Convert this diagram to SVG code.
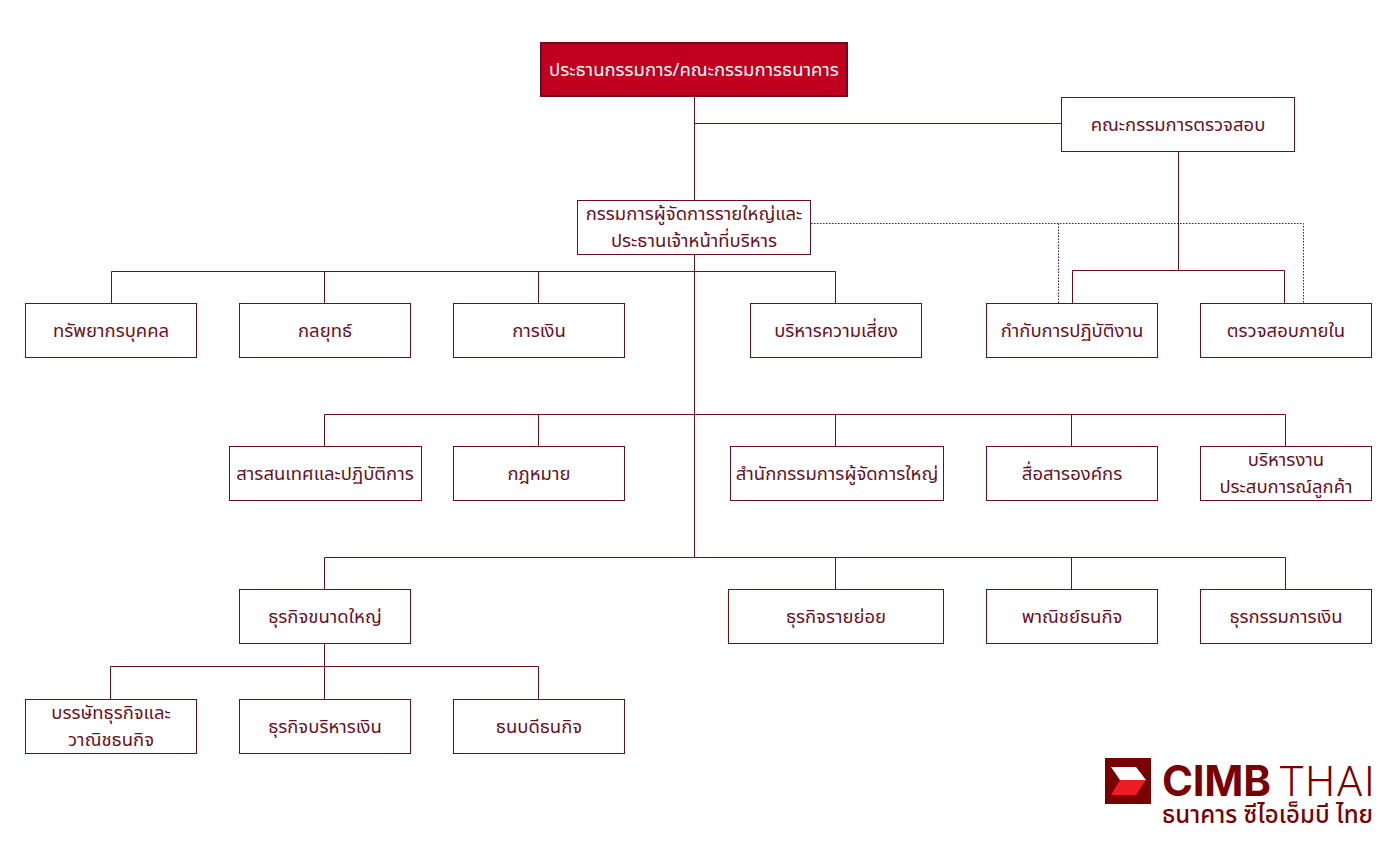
<svg xmlns="http://www.w3.org/2000/svg" width="1397" height="843" viewBox="0 0 1397 843">
<style>
rect.n{fill:#fff;stroke:#6b0f1f;stroke-width:1}
rect.t{fill:#c0001e;stroke:#6b0f1f;stroke-width:2}
text{font-family:"Noto Sans Thai","Noto Sans","DejaVu Sans","Liberation Sans",sans-serif;font-size:18.5px;fill:#6b0f1f;text-anchor:middle}
#connectors path{fill:none;stroke:#6b0f1f;stroke-width:1}
#connectors path.d{stroke-dasharray:1.5 1.5}
</style>
<rect width="1397" height="843" fill="#fff"/>
<g id="connectors">
<path d="M694.5 96V200M694.5 123.500H1061M1178.500 152V270.500M1072.500 303V270.500H1284.500V303"/>
<path d="M694.500 255V557.500"/>
<path d="M111.500 303V271.500H835.500V303M324.500 271.500V303M538.500 271.500V303"/>
<path d="M324.500 446V414.500H1285.500V446M538.500 414.500V446M835.500 414.500V446M1071.500 414.500V446"/>
<path d="M324.500 589V557.500H1285.500V589M835.500 557.500V589M1071.500 557.500V589"/>
<path d="M324.500 644V699M110.500 699V666.500H538.500V699"/>
<path class="d" d="M811 223.500H1303.500V303M1058.500 223.500V303"/>
</g>
<g id="n-board"><rect class="t" x="541" y="43" width="306" height="53"/><text x="694" y="76" style="fill:#fff">ประธานกรรมการ/คณะกรรมการธนาคาร</text></g>
<g id="n-audit"><rect class="n" x="1061.500" y="97.500" width="233" height="54"/><text x="1178" y="131">คณะกรรมการตรวจสอบ</text></g>
<g id="n-ceo"><rect class="n" x="577.500" y="200.500" width="233" height="54"/><text x="694" y="220">กรรมการผู้จัดการรายใหญ่และ</text><text x="694" y="247">ประธานเจ้าหน้าที่บริหาร</text></g>
<g id="n-hr"><rect class="n" x="25.500" y="303.500" width="171" height="54"/><text x="111" y="337">ทรัพยากรบุคคล</text></g>
<g id="n-strategy"><rect class="n" x="239.500" y="303.500" width="171" height="54"/><text x="325" y="337">กลยุทธ์</text></g>
<g id="n-finance"><rect class="n" x="453.500" y="303.500" width="171" height="54"/><text x="539" y="337">การเงิน</text></g>
<g id="n-risk"><rect class="n" x="750.500" y="303.500" width="171" height="54"/><text x="836" y="337">บริหารความเสี่ยง</text></g>
<g id="n-compliance"><rect class="n" x="986.500" y="303.500" width="171" height="54"/><text x="1072" y="337">กำกับการปฏิบัติงาน</text></g>
<g id="n-internal"><rect class="n" x="1200.500" y="303.500" width="171" height="54"/><text x="1286" y="337">ตรวจสอบภายใน</text></g>
<g id="n-it"><rect class="n" x="229.500" y="446.500" width="192" height="54"/><text x="325" y="480">สารสนเทศและปฏิบัติการ</text></g>
<g id="n-legal"><rect class="n" x="453.500" y="446.500" width="171" height="54"/><text x="539" y="480">กฎหมาย</text></g>
<g id="n-office"><rect class="n" x="730.500" y="446.500" width="213" height="54"/><text x="837" y="480">สำนักกรรมการผู้จัดการใหญ่</text></g>
<g id="n-comm"><rect class="n" x="986.500" y="446.500" width="171" height="54"/><text x="1072" y="480">สื่อสารองค์กร</text></g>
<g id="n-cx"><rect class="n" x="1200.500" y="446.500" width="171" height="54"/><text x="1286" y="466">บริหารงาน</text><text x="1286" y="493">ประสบการณ์ลูกค้า</text></g>
<g id="n-wholesale"><rect class="n" x="239.500" y="589.500" width="171" height="54"/><text x="325" y="623">ธุรกิจขนาดใหญ่</text></g>
<g id="n-retail"><rect class="n" x="728.500" y="589.500" width="215" height="54"/><text x="836" y="623">ธุรกิจรายย่อย</text></g>
<g id="n-commercial"><rect class="n" x="986.500" y="589.500" width="171" height="54"/><text x="1072" y="623">พาณิชย์ธนกิจ</text></g>
<g id="n-treasury"><rect class="n" x="1200.500" y="589.500" width="171" height="54"/><text x="1286" y="623">ธุรกรรมการเงิน</text></g>
<g id="n-corp"><rect class="n" x="25.500" y="699.500" width="171" height="54"/><text x="111" y="719">บรรษัทธุรกิจและ</text><text x="111" y="746">วาณิชธนกิจ</text></g>
<g id="n-cash"><rect class="n" x="239.500" y="699.500" width="171" height="54"/><text x="325" y="733">ธุรกิจบริหารเงิน</text></g>
<g id="n-ib"><rect class="n" x="453.500" y="699.500" width="171" height="54"/><text x="539" y="733">ธนบดีธนกิจ</text></g>
<g id="logo">
<rect x="1105" y="758" width="46" height="46" fill="#790000"/>
<path d="M1111 767H1136L1146 780H1120Z" fill="#fff"/>
<path d="M1120 780H1146L1136 795H1111Z" fill="#ed1c24"/>
<text x="1162" y="796" textLength="109" style="font-family:Inter,'Liberation Sans',sans-serif;font-size:42px;font-weight:700;fill:#790000;text-anchor:start">CIMB</text>
<text x="1279" y="796" textLength="96" style="font-family:Roboto,'Liberation Sans',sans-serif;font-size:42px;font-weight:300;fill:#790000;text-anchor:start">THAI</text>
<text x="1162" y="823" textLength="211" style="font-size:24px;font-weight:500;fill:#790000;text-anchor:start">ธนาคาร ซีไอเอ็มบี ไทย</text>
</g>
</svg>
